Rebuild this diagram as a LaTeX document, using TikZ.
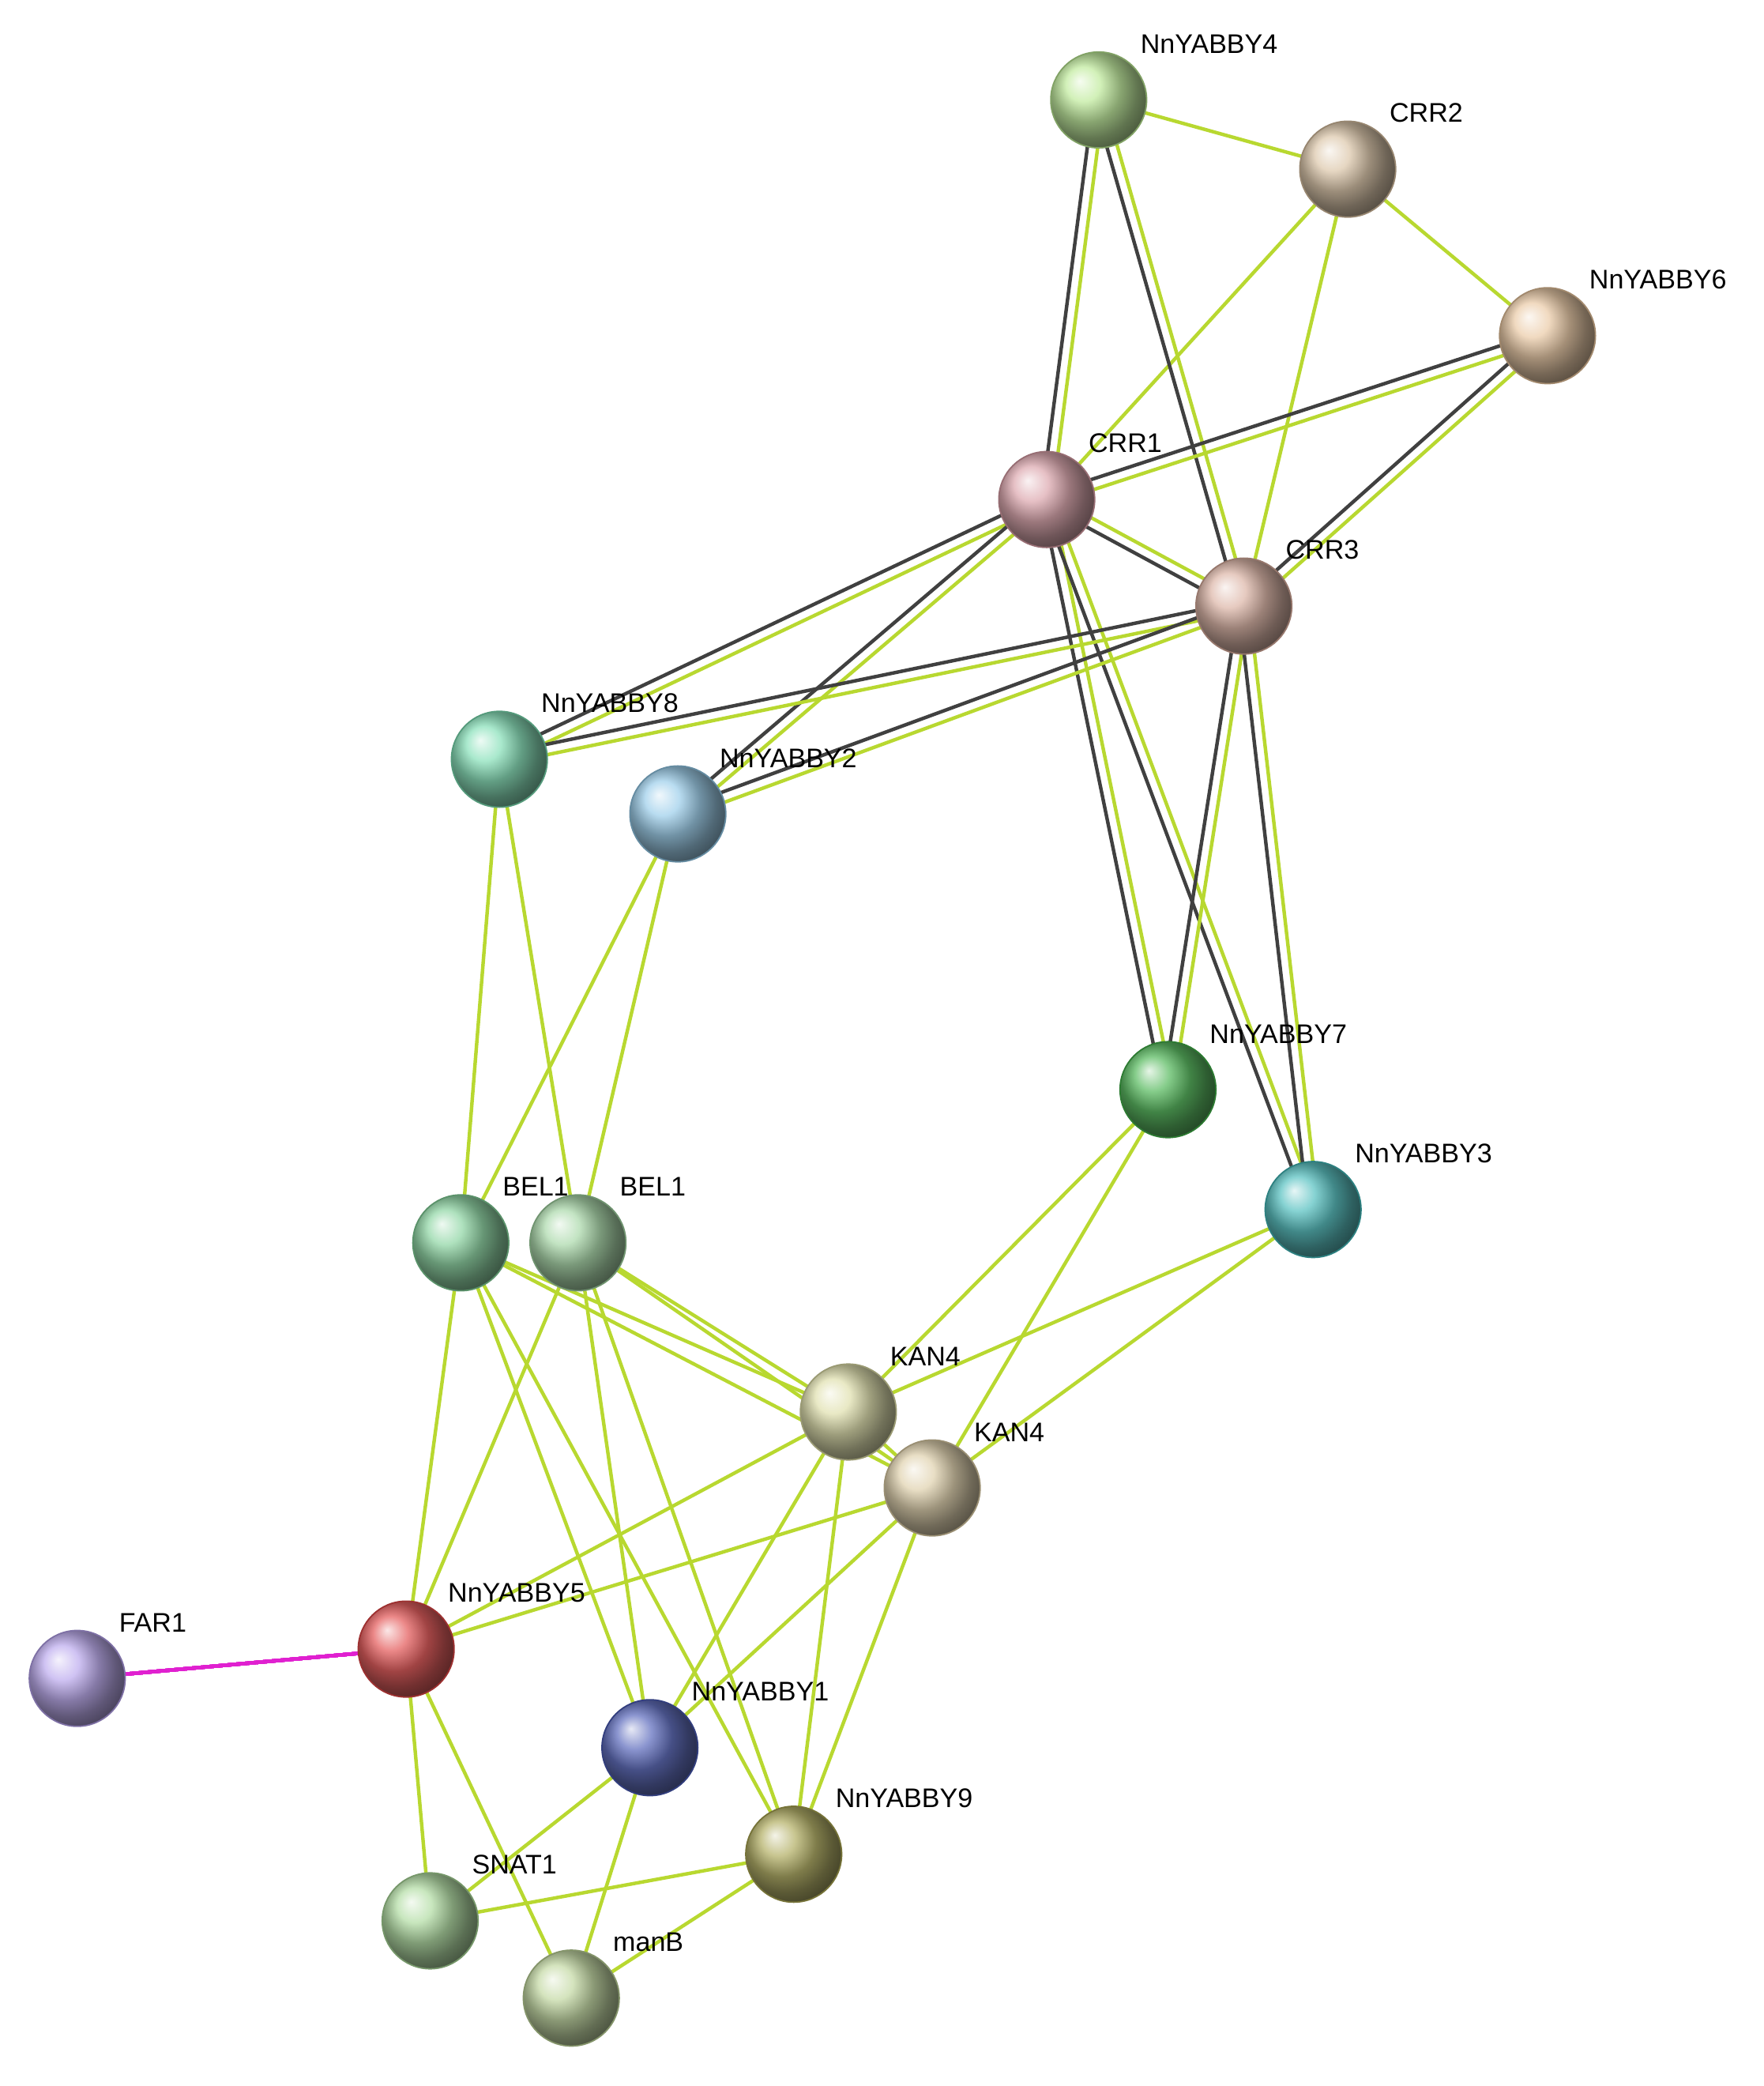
\documentclass[tikz,border=0pt]{standalone}
\usepackage{fontspec}
\setmainfont{Liberation Sans}
\usetikzlibrary{calc}
\definecolor{grn}{HTML}{B8D830}
\definecolor{gry}{HTML}{404040}
\definecolor{mag}{HTML}{E020D0}
\definecolor{cY4}{HTML}{B8E890}\definecolor{cCRR2}{HTML}{D8C0A0}\definecolor{cY6}{HTML}{E8C49C}
\definecolor{cCRR1}{HTML}{D89CA4}\definecolor{cCRR3}{HTML}{D8AC9C}\definecolor{cY8}{HTML}{78DCB0}
\definecolor{cY2}{HTML}{90C8E8}\definecolor{cY7}{HTML}{40B048}\definecolor{cY3}{HTML}{40B8B8}
\definecolor{cBa}{HTML}{80D098}\definecolor{cBb}{HTML}{A0D4A0}\definecolor{cKa}{HTML}{DCDCA4}
\definecolor{cKb}{HTML}{DCCCA4}\definecolor{cFar}{HTML}{B4A0EC}\definecolor{cY5}{HTML}{E04444}
\definecolor{cY1}{HTML}{4858B4}\definecolor{cY9}{HTML}{A8A450}\definecolor{cSn}{HTML}{A8D898}
\definecolor{cMan}{HTML}{BCD498}
\tikzset{
  ball/.style={circle,minimum size=1.44cm,inner sep=0pt,shading=ball,ball color=#1!85!white,draw=#1!70!black,line width=0.6pt},
  lbl/.style={font=\fontsize{11.5}{13}\selectfont,anchor=south west,inner sep=0pt,xshift=3pt,yshift=5pt},
  ge/.style={grn,line width=1.5pt},
  de/.style={gry,line width=1.5pt},
}
\newcommand\dual[2]{%
  \draw[ge] ($(#1.center)!2.2pt!90:(#2.center)$) -- ($(#2.center)!2.2pt!-90:(#1.center)$);
  \draw[de] ($(#1.center)!-2.2pt!90:(#2.center)$) -- ($(#2.center)!-2.2pt!-90:(#1.center)$);}
\begin{document}
\begin{tikzpicture}[x=0.02cm,y=-0.02cm]
\useasboundingbox (0,0) rectangle (1324,1566);
\path
 (825,75) coordinate (y4) (1012,127) coordinate (crr2) (1162,252) coordinate (y6)
 (786,375) coordinate (crr1) (934,455) coordinate (crr3) (375,570) coordinate (y8)
 (509,611) coordinate (y2) (877,818) coordinate (y7) (986,908) coordinate (y3)
 (346,933) coordinate (bela) (434,933) coordinate (belb) (637,1060) coordinate (kana)
 (700,1117) coordinate (kanb) (58,1260) coordinate (far) (305,1238) coordinate (y5)
 (488,1312) coordinate (y1) (596,1392) coordinate (y9) (323,1442) coordinate (snat)
 (429,1500) coordinate (manb);
% edges
\foreach \a/\b in {y4/crr2,crr2/crr1,crr2/crr3,crr2/y6,y8/bela,y8/belb,y2/bela,y2/belb,
  y7/kana,y7/kanb,y3/kana,y3/kanb,bela/kana,bela/kanb,belb/kana,belb/kanb,bela/y5,belb/y5,
  bela/y1,bela/y9,belb/y1,belb/y9,kana/y5,kanb/y5,kana/y1,kanb/y1,kana/y9,kanb/y9,kana/kanb,
  y5/snat,y5/manb,y1/snat,y1/manb,y9/snat,y9/manb}
  \draw[ge] (\a) -- (\b);
\foreach \a/\b in {y4/crr1,y4/crr3,y6/crr1,y6/crr3,crr1/crr3,crr1/y8,crr1/y2,crr1/y7,crr1/y3,
  crr3/y8,crr3/y2,crr3/y7,crr3/y3}
  \dual{\a}{\b}
\draw[mag,line width=1.5pt] (far) -- (y5);
% nodes
\node[ball=cY4,label={[lbl]45:NnYABBY4}] (n1) at (y4) {};
\node[ball=cCRR2,label={[lbl]45:CRR2}] (n2) at (crr2) {};
\node[ball=cY6,label={[lbl]45:NnYABBY6}] (n3) at (y6) {};
\node[ball=cCRR1,label={[lbl]45:CRR1}] (n4) at (crr1) {};
\node[ball=cCRR3,label={[lbl]45:CRR3}] (n5) at (crr3) {};
\node[ball=cY8,label={[lbl]45:NnYABBY8}] (n6) at (y8) {};
\node[ball=cY2,label={[lbl]45:NnYABBY2}] (n7) at (y2) {};
\node[ball=cY7,label={[lbl]45:NnYABBY7}] (n8) at (y7) {};
\node[ball=cY3,label={[lbl]45:NnYABBY3}] (n9) at (y3) {};
\node[ball=cBa,label={[lbl]45:BEL1}] (n10) at (bela) {};
\node[ball=cBb,label={[lbl]45:BEL1}] (n11) at (belb) {};
\node[ball=cKa,label={[lbl]45:KAN4}] (n12) at (kana) {};
\node[ball=cKb,label={[lbl]45:KAN4}] (n13) at (kanb) {};
\node[ball=cFar,label={[lbl]45:FAR1}] (n14) at (far) {};
\node[ball=cY5,label={[lbl]45:NnYABBY5}] (n15) at (y5) {};
\node[ball=cY1,label={[lbl]45:NnYABBY1}] (n16) at (y1) {};
\node[ball=cY9,label={[lbl]45:NnYABBY9}] (n17) at (y9) {};
\node[ball=cSn,label={[lbl]45:SNAT1}] (n18) at (snat) {};
\node[ball=cMan,label={[lbl]45:manB}] (n19) at (manb) {};
\end{tikzpicture}
\end{document}
